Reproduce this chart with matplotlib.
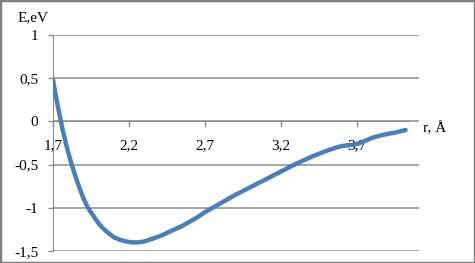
import matplotlib
matplotlib.use('Agg')
import matplotlib.pyplot as plt

# Energy curve, E(r)
r = [1.70, 1.715, 1.73, 1.745, 1.76, 1.775, 1.79, 1.805, 1.825, 1.85, 1.87, 1.90,
     1.93, 1.96, 2.00, 2.03, 2.07, 2.10, 2.14, 2.18, 2.22, 2.26, 2.30, 2.35,
     2.40, 2.45, 2.50, 2.55, 2.60, 2.65, 2.70, 2.80, 2.90, 3.00, 3.10, 3.20,
     3.30, 3.40, 3.50, 3.56, 3.60, 3.64, 3.68, 3.72, 3.76, 3.80, 3.85, 3.90,
     3.95, 4.02]
E = [0.48, 0.33, 0.19, 0.06, -0.07, -0.18, -0.29, -0.39, -0.51, -0.65, -0.75, -0.89,
     -1.00, -1.08, -1.18, -1.24, -1.30, -1.34, -1.37, -1.39, -1.40, -1.40, -1.39, -1.36,
     -1.33, -1.29, -1.25, -1.21, -1.16, -1.11, -1.05, -0.95, -0.85, -0.76, -0.67, -0.58,
     -0.49, -0.41, -0.34, -0.305, -0.285, -0.275, -0.27, -0.25, -0.22, -0.19, -0.165, -0.145,
     -0.13, -0.10]

xticks = [1.7, 2.2, 2.7, 3.2, 3.7]
xlabels = ['1,7', '2,2', '2,7', '3,2', '3,7']
yticks = [-1.5, -1, -0.5, 0, 0.5, 1]
ylabels = ['-1,5', '-1', '-0,5', '0', '0,5', '1']

font = 'Liberation Serif'
grey = '#8c8c8c'

fig = plt.figure(figsize=(4.75, 2.63), dpi=100)
ax = fig.add_axes([53/475, 1-251/263, (419-53)/475, (251-35)/263])

ax.plot(r, E, color='#4a7ebb', lw=3.2, solid_capstyle='round',
        solid_joinstyle='round', zorder=3)

ax.set_xlim(1.7, 1.7 + (419-53)/152)
ax.set_ylim(-1.5, 1)
ax.set_xticks(xticks)
ax.set_xticklabels(xlabels)
ax.set_yticks(yticks)
ax.set_yticklabels(ylabels)

ax.spines['top'].set_visible(False)
ax.spines['right'].set_visible(False)
ax.spines['left'].set_color(grey)
ax.spines['bottom'].set_color(grey)
ax.spines['bottom'].set_position(('data', 0))
ax.spines['bottom'].set_bounds(1.7, 1.7 + (409-53)/152)

ax.tick_params(axis='x', direction='out', length=4, width=1, color=grey, pad=9)
ax.tick_params(axis='y', direction='out', length=3.5, width=1, color=grey, pad=7)
for lab in ax.get_xticklabels() + ax.get_yticklabels():
    lab.set_fontname(font)
    lab.set_fontsize(11)

ax.yaxis.grid(True, color=grey, lw=1.1)
ax.set_axisbelow(True)

fig.text(33/475, 1-18/263, 'E,eV', family=font, fontsize=11, ha='center', va='center')
fig.text(423/475, 1-128/263, 'r, Å', family=font, fontsize=11, ha='left', va='center')

fig.add_artist(plt.Rectangle((0, 0), 1, 1, transform=fig.transFigure, fill=False,
                             edgecolor='#7f7f7f', lw=2.5))

fig.savefig('out.png', dpi=100)
